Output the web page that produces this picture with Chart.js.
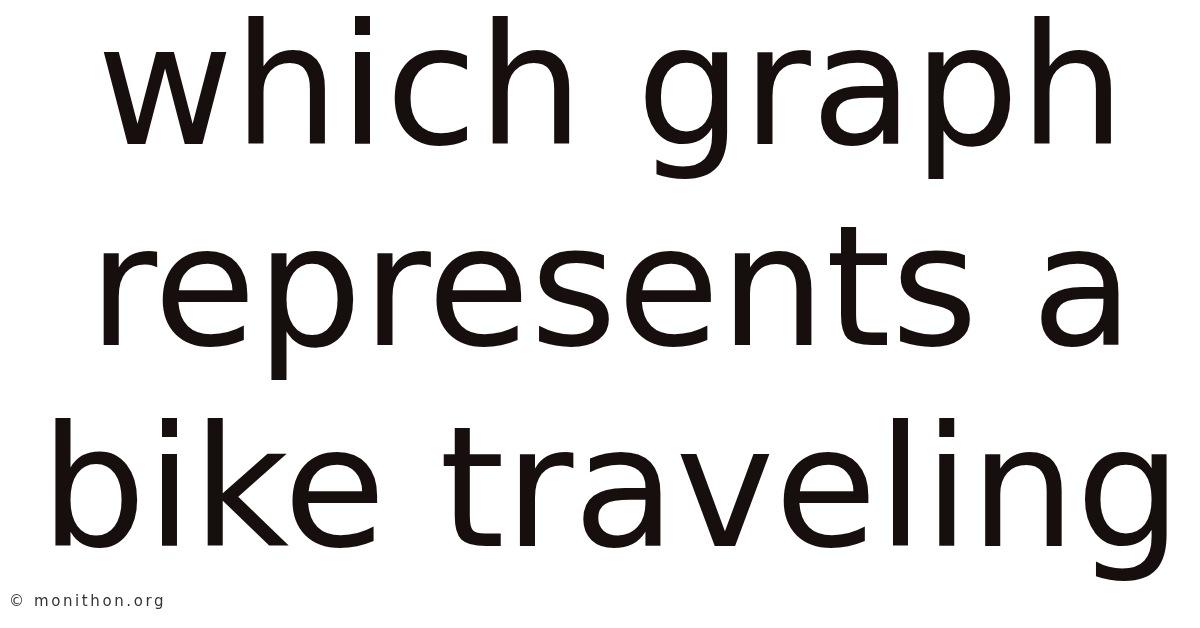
<!DOCTYPE html>
<html>
<head>
<meta charset="utf-8">
<script src="https://cdn.jsdelivr.net/npm/chart.js@4/dist/chart.umd.min.js"></script>
<style>
  html, body { margin: 0; padding: 0; background: #fff; }
  #card { width: 1200px; height: 628px; }
</style>
</head>
<body>
<div id="card"><canvas id="headline" width="1200" height="628"></canvas></div>
<script>
// Text content of the card
const titleLines = ["which graph", "represents a", "bike traveling"];
const footerText = "\u00a9 monithon.org";
const categories = [];
const values = [];

document.addEventListener("DOMContentLoaded", function() {
    const ctx = document.getElementById("headline");

    // small footer with wide letter spacing (not supported by the title plugin)
    const footerPlugin = {
        id: "footer",
        afterDraw(chart) {
            const c = chart.ctx;
            c.save();
            c.font = "15px 'DejaVu Sans'";
            c.fillStyle = "#333";
            c.textAlign = "left";
            c.textBaseline = "alphabetic";
            c.letterSpacing = "2.6px";
            c.fillText(footerText, 9, 606);
            c.restore();
        }
    };

    new Chart(ctx, {
        type: "bar",
        data: {
            labels: categories,
            datasets: [{ data: values }]
        },
        options: {
            responsive: false,
            devicePixelRatio: 1,
            animation: false,
            layout: { padding: { left: 22, top: 0 } },
            scales: {
                x: { display: false },
                y: { display: false }
            },
            plugins: {
                legend: { display: false },
                tooltip: { enabled: false },
                title: {
                    display: true,
                    text: titleLines,
                    color: "#170e0e",
                    font: { family: "'DejaVu Sans'", size: 167, weight: "normal", lineHeight: 1.205 },
                    padding: { top: 0, bottom: 0 }
                }
            }
        },
        plugins: [footerPlugin]
    });
});
</script>
</body>
</html>
